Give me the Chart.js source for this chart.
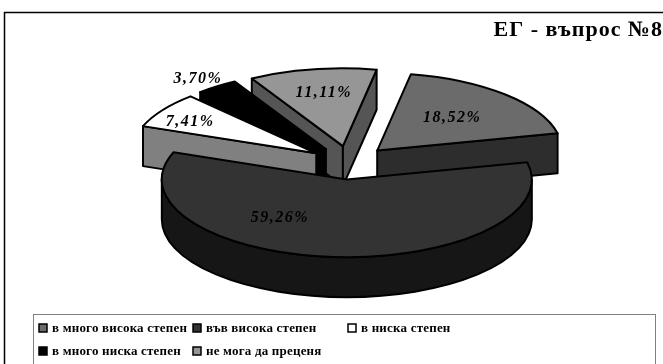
<!DOCTYPE html>
<html>
<head>
<meta charset="utf-8">
<title>ЕГ - въпрос №8</title>
<script src="https://cdn.jsdelivr.net/npm/chart.js@4/dist/chart.umd.min.js"></script>
<style>
  html, body { margin: 0; padding: 0; background: #fff; overflow: hidden; }
  canvas { display: block; }
</style>
</head>
<body>
<canvas id="pie" width="663" height="364"></canvas>
<script>
const categories = [
  'в много висока степен',
  'във висока степен',
  'в ниска степен',
  'в много ниска степен',
  'не мога да преценя'
];
const shares = [18.52, 59.26, 7.41, 3.70, 11.11];
const topColors = ['#6b6b6b', '#333333', '#ffffff', '#000000', '#969696'];
const sideColors = ['#2d2d2d', '#161616', '#808080', '#000000', '#555555'];

const SQUASH = 0.42;
const DEPTH = 40;
const EXPLODE = 40;
const SERIF = '"Liberation Serif", "Times New Roman", serif';

// back slices first, the big one goes on top of everything
const drawOrder = [0, 4, 3, 2, 1];
// label position from the slice tip, in screen px
const labelShift = [[75, -33], [-67, 38], [-126, -31], [-128, -70], [-19, -53]];

// native arc offset changes the radius with slice size, so explode by hand
const tipOf = (arc) => {
  const mid = (arc.startAngle + arc.endAngle) / 2;
  return {
    x: arc.x + Math.cos(mid) * EXPLODE,
    y: arc.y + Math.sin(mid) * EXPLODE * SQUASH,
    r: arc.outerRadius
  };
};

const wall = (ctx, tip, angle, color) => {
  const rimX = tip.x + Math.cos(angle) * tip.r;
  const rimY = tip.y + Math.sin(angle) * tip.r * SQUASH;
  ctx.beginPath();
  ctx.moveTo(tip.x, tip.y);
  ctx.lineTo(rimX, rimY);
  ctx.lineTo(rimX, rimY + DEPTH);
  ctx.lineTo(tip.x, tip.y + DEPTH);
  ctx.closePath();
  ctx.fillStyle = color;
  ctx.fill();
  ctx.stroke();
};

const drawSides = (ctx, arc, color) => {
  const tip = tipOf(arc);
  const a = arc.startAngle;
  const b = arc.endAngle;
  // a cut face only shows when it turns towards the viewer
  if (Math.sin(a - Math.PI / 2) > 0) wall(ctx, tip, a, color);
  if (Math.sin(b + Math.PI / 2) > 0) wall(ctx, tip, b, color);

  // rim wall on the front half of the ellipse
  for (let k = -1; k <= 1; k++) {
    const from = Math.max(a, 2 * Math.PI * k);
    const to = Math.min(b, Math.PI + 2 * Math.PI * k);
    if (to <= from) continue;
    ctx.beginPath();
    ctx.ellipse(tip.x, tip.y, tip.r, tip.r * SQUASH, 0, from, to);
    ctx.ellipse(tip.x, tip.y + DEPTH, tip.r, tip.r * SQUASH, 0, to, from, true);
    ctx.closePath();
    ctx.fillStyle = color;
    ctx.fill();
    ctx.stroke();
  }
};

const pie3d = {
  id: 'pie3d',
  // slices are painted by hand below, so skip the normal pass
  beforeDatasetDraw() {
    return false;
  },
  afterDatasetsDraw(chart) {
    const { ctx } = chart;
    const arcs = chart.getDatasetMeta(0).data;
    ctx.save();
    ctx.lineWidth = 2;
    ctx.strokeStyle = '#000';
    ctx.lineJoin = 'round';
    drawOrder.forEach(i => {
      const arc = arcs[i];
      const tip = tipOf(arc);
      drawSides(ctx, arc, sideColors[i]);

      ctx.save();
      ctx.translate(tip.x, tip.y);
      ctx.scale(1, SQUASH);
      ctx.translate(-arc.x, -arc.y);
      arc.draw(ctx);
      ctx.restore();

      ctx.beginPath();
      ctx.moveTo(tip.x, tip.y);
      ctx.ellipse(tip.x, tip.y, tip.r, tip.r * SQUASH, 0, arc.startAngle, arc.endAngle);
      ctx.closePath();
      ctx.stroke();
    });

    // percent labels
    ctx.font = 'italic bold 16px ' + SERIF;
    ctx.letterSpacing = '1.5px';
    ctx.textAlign = 'center';
    ctx.textBaseline = 'middle';
    ctx.fillStyle = '#000';
    arcs.forEach((arc, i) => {
      const tip = tipOf(arc);
      const text = shares[i].toFixed(2).replace('.', ',') + '%';
      ctx.fillText(text, tip.x + labelShift[i][0], tip.y + labelShift[i][1]);
    });
    ctx.restore();
  }
};

// outer frame and the two-row legend box
const frameAndLegend = {
  id: 'frameAndLegend',
  beforeDraw(chart) {
    const { ctx } = chart;
    ctx.strokeStyle = '#000';
    ctx.lineWidth = 1.5;
    ctx.strokeRect(4.5, 12.5, 700, 400);
    // picked up by the title, the labels and legend set their own
    ctx.letterSpacing = '1px';
  },
  afterDraw(chart) {
    const { ctx } = chart;
    const cells = [[39, 328], [193, 328], [348, 328], [39, 351], [193, 351]];
    ctx.save();
    ctx.strokeStyle = '#808080';
    ctx.lineWidth = 1;
    ctx.strokeRect(33.5, 314.5, 622, 70);
    ctx.font = 'bold 13px ' + SERIF;
    ctx.letterSpacing = '0.2px';
    ctx.textBaseline = 'middle';
    categories.forEach((name, i) => {
      const [x, y] = cells[i];
      ctx.fillStyle = topColors[i];
      ctx.strokeStyle = '#000';
      ctx.lineWidth = 1.5;
      ctx.fillRect(x, y - 4, 8, 8);
      ctx.strokeRect(x, y - 4, 8, 8);
      ctx.fillStyle = '#000';
      ctx.fillText(name, x + 13, y + 1);
    });
    ctx.restore();
  }
};

new Chart(document.getElementById('pie'), {
  type: 'pie',
  data: {
    labels: categories,
    datasets: [{
      data: shares,
      backgroundColor: topColors,
      borderWidth: 0,
      clip: false
    }]
  },
  options: {
    responsive: false,
    animation: false,
    rotation: 10.5,
    radius: 185,
    layout: { padding: { left: 36, bottom: 82 } },
    events: [],
    plugins: {
      legend: { display: false },
      tooltip: { enabled: false },
      title: {
        display: true,
        text: 'ЕГ - въпрос №8',
        align: 'end',
        color: '#000',
        font: { family: SERIF, size: 22, weight: 'bold' },
        padding: { top: 17, bottom: 0 }
      }
    }
  },
  plugins: [frameAndLegend, pie3d]
});
</script>
</body>
</html>
